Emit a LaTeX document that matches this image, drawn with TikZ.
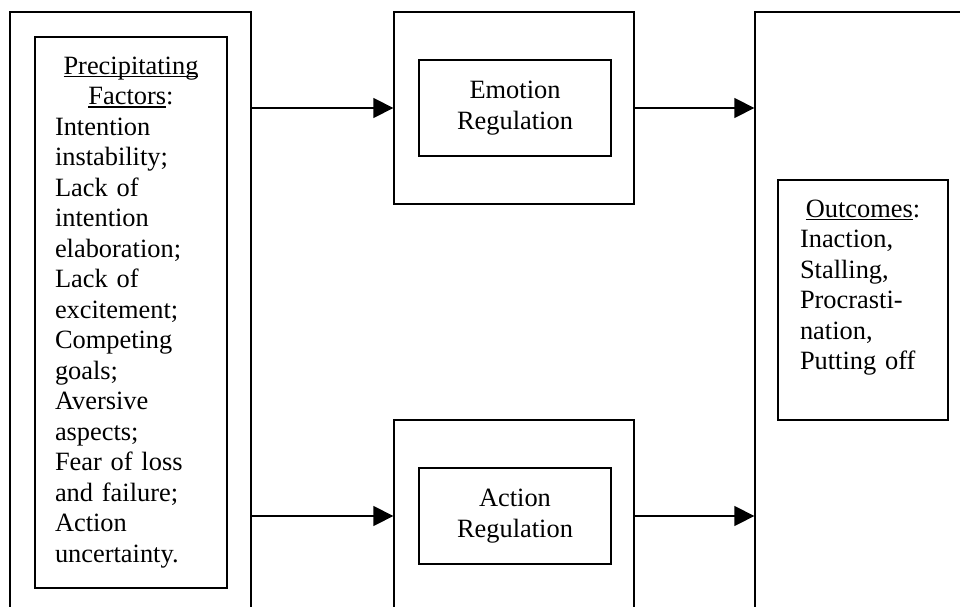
\documentclass[tikz,border=0pt]{standalone}
\usepackage{fontspec}
\setmainfont{Liberation Serif}
\usetikzlibrary{arrows.meta}
\newcommand{\undl}[1]{\leavevmode\setbox0\hbox{#1}\rlap{\rule[-2.8pt]{\wd0}{1.4pt}}\box0}

\begin{document}
\begin{tikzpicture}[x=1pt, y=-1pt]
		\tikzstyle{outer}=[rectangle, draw=black, line width=1.3pt, inner sep=0pt]
		\tikzstyle{inner}=[rectangle, draw=black, line width=1.3pt, font=\fontsize{26.4}{30.5}\selectfont]
		\tikzstyle{connect}=[line width=1.3pt, -{Triangle[length=20pt, width=20pt]}]
		\clip (0,0) rectangle (960,607);
		\node[outer, minimum width=241pt, minimum height=638pt] (precOuter) at (130.5,331) {};
		\node[outer, minimum width=240pt, minimum height=192pt] (emoOuter)  at (514,108)   {};
		\node[outer, minimum width=240pt, minimum height=192pt] (actOuter)  at (514,516)   {};
		\node[outer, minimum width=245pt, minimum height=638pt] (outOuter)  at (877.5,331) {};
		
		\node[inner, minimum height=551pt, text width=152pt, inner xsep=20pt] (prec) at (131,312.5)
		{{\centering\undl{Precipitating}\\\undl{Factors}:\par}\noindent Intention\\instability;\\Lack of\\intention\\elaboration;\\Lack of\\excitement;\\Competing\\goals;\\Aversive\\aspects;\\Fear of loss\\and failure;\\Action\\uncertainty.};
		\node[inner, minimum width=192pt, minimum height=96pt, align=center] (emo) at (515,108) {Emotion\\Regulation};
		\node[inner, minimum width=192pt, minimum height=96pt, align=center] (act) at (515,516) {Action\\Regulation};
		\node[inner, minimum height=240pt, text width=126pt, inner xsep=22pt] (outc) at (863,300)
		{{\centering\undl{Outcomes}:\par}\noindent Inaction,\\Stalling,\\Procrasti-\\nation,\\Putting off\par\noindent\mbox{}};
		
		\path 
		(precOuter.east |- emoOuter.west) edge [connect] (emoOuter.west)
		(precOuter.east |- actOuter.west) edge [connect] (actOuter.west)
		(emoOuter.east) edge [connect] (outOuter.west |- emoOuter.east)
		(actOuter.east) edge [connect] (outOuter.west |- actOuter.east)
		;
		
\end{tikzpicture}
\end{document}
